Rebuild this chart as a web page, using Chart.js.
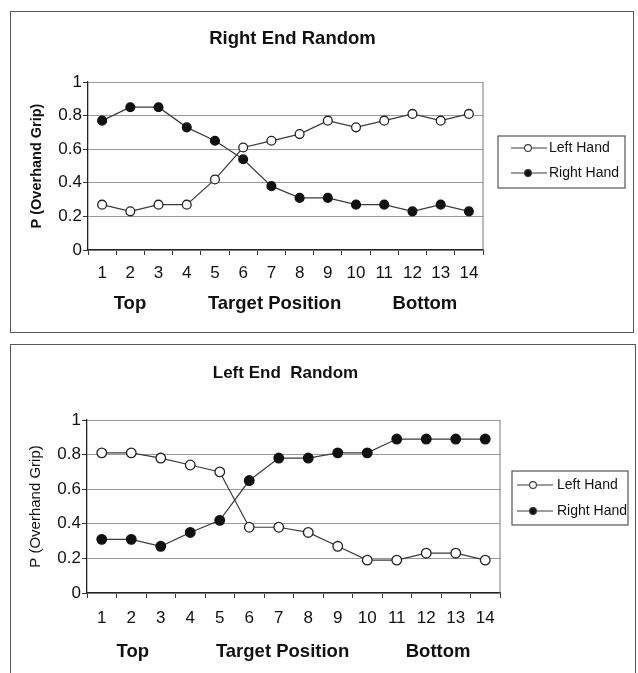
<!DOCTYPE html>
<html>
<head>
<meta charset="utf-8">
<script src="https://cdn.jsdelivr.net/npm/chart.js@4.4.1/dist/chart.umd.min.js"></script>
<style>
  html, body { margin: 0; padding: 0; background: #fff; width: 638px; height: 673px; overflow: hidden; }
  .frame { position: absolute; box-sizing: border-box; border: 1.5px solid #555; }
  canvas { position: absolute; }
</style>
</head>
<body>
<div class="frame" style="left:10px;top:11px;width:624px;height:322px"></div>
<div class="frame" style="left:10px;top:344px;width:626px;height:340px"></div>
<canvas id="c1" width="621" height="319" style="left:11px;top:12px"></canvas>
<canvas id="c2" width="624" height="328" style="left:11px;top:345px"></canvas>
<script>
// ---- data ----
const positions = ['1','2','3','4','5','6','7','8','9','10','11','12','13','14'];
const yTickLabels = ['0','0.2','0.4','0.6','0.8','1'];
const seriesNames = ['Left Hand', 'Right Hand'];
const chartTitles = ['Right End Random', 'Left End  Random'];
const yAxisTitle = 'P (Overhand Grip)';
const xAxisParts = ['Top', 'Target Position', 'Bottom'];

const rightEndLeftHand  = [0.27, 0.23, 0.27, 0.27, 0.42, 0.61, 0.65, 0.69, 0.77, 0.73, 0.77, 0.81, 0.77, 0.81];
const rightEndRightHand = [0.77, 0.85, 0.85, 0.73, 0.65, 0.54, 0.38, 0.31, 0.31, 0.27, 0.27, 0.23, 0.27, 0.23];
const leftEndLeftHand   = [0.81, 0.81, 0.78, 0.74, 0.70, 0.38, 0.38, 0.35, 0.27, 0.19, 0.19, 0.23, 0.23, 0.19];
const leftEndRightHand  = [0.31, 0.31, 0.27, 0.35, 0.42, 0.65, 0.78, 0.78, 0.81, 0.81, 0.89, 0.89, 0.89, 0.89];

// ---- plugins ----
const FONT = '"Liberation Sans", Arial, Helvetica, sans-serif';

const titleShift = {
  id: 'titleShift',
  afterLayout(chart, args, o) {
    const t = chart.titleBlock;
    if (t) { t.left += o.shift; t.right += o.shift; }
  }
};

const plotFrame = {
  id: 'plotFrame',
  beforeDatasetsDraw(chart, args, o) {
    const { ctx, chartArea: a } = chart;
    ctx.save();
    ctx.strokeStyle = o.color;
    ctx.lineWidth = 1;
    ctx.beginPath();
    ctx.moveTo(a.right, a.top);
    ctx.lineTo(a.right, a.bottom);
    ctx.stroke();
    ctx.restore();
  }
};

const boxLegend = {
  id: 'boxLegend',
  afterDraw(chart, args, o) {
    const { ctx, chartArea: a } = chart;
    const x = a.right + o.dx;
    const y = (a.top + a.bottom) / 2 + o.dy - o.h / 2;
    ctx.save();
    ctx.strokeStyle = '#555';
    ctx.lineWidth = 1.2;
    ctx.strokeRect(x, y, o.w, o.h);
    ctx.font = o.fontSize + 'px ' + FONT;
    ctx.textBaseline = 'middle';
    ctx.textAlign = 'left';
    chart.data.datasets.forEach((ds, i) => {
      const ry = y + o.rows[i];
      ctx.strokeStyle = ds.borderColor;
      ctx.lineWidth = 1.1;
      ctx.beginPath();
      ctx.moveTo(x + o.line[0], ry);
      ctx.lineTo(x + o.line[1], ry);
      ctx.stroke();
      ctx.beginPath();
      ctx.arc(x + o.mark, ry, o.r, 0, Math.PI * 2);
      ctx.fillStyle = ds.pointBackgroundColor;
      ctx.fill();
      ctx.stroke();
      ctx.fillStyle = '#111';
      ctx.fillText(ds.label, x + o.text, ry);
    });
    ctx.restore();
  }
};

function makeDatasets(leftVals, rightVals, radius) {
  return [
    {
      label: seriesNames[0], data: leftVals,
      borderColor: '#3a3a3a', borderWidth: 1.2, tension: 0,
      pointRadius: radius, pointBackgroundColor: '#ffffff',
      pointBorderColor: '#222', pointBorderWidth: 1.3
    },
    {
      label: seriesNames[1], data: rightVals,
      borderColor: '#3a3a3a', borderWidth: 1.2, tension: 0,
      pointRadius: radius, pointBackgroundColor: '#111111',
      pointBorderColor: '#111', pointBorderWidth: 1.3
    }
  ];
}

function makeChart(id, cfg) {
  const xTitle = xAxisParts[0] + ' '.repeat(cfg.gap1) + xAxisParts[1] + ' '.repeat(cfg.gap2) + xAxisParts[2];
  return new Chart(document.getElementById(id), {
    type: 'line',
    data: { labels: positions, datasets: makeDatasets(cfg.left, cfg.right, cfg.radius) },
    plugins: [titleShift, plotFrame, boxLegend],
    options: {
      responsive: false,
      animation: false,
      events: [],
      layout: { padding: cfg.padding },
      plugins: {
        legend: { display: false },
        tooltip: { enabled: false },
        title: {
          display: true, text: cfg.title, fullSize: false, color: '#111',
          font: { family: FONT, size: cfg.titleSize, weight: 'bold', lineHeight: 1.2 },
          padding: cfg.titlePad
        },
        titleShift: { shift: cfg.titleShift },
        plotFrame: { color: '#777' },
        boxLegend: cfg.legend
      },
      scales: {
        x: {
          type: 'category', offset: true,
          afterFit: s => { s.height = cfg.xHeight; },
          grid: { offset: true, drawOnChartArea: false, tickLength: 5, color: '#333', lineWidth: 1 },
          border: { color: '#222', width: 1.3 },
          ticks: { autoSkip: false, maxRotation: 0, padding: cfg.xTickPad, color: '#111',
                   font: { family: FONT, size: 17, lineHeight: 1.2 } },
          title: { display: true, text: xTitle, color: '#111',
                   font: { family: FONT, size: 18.5, weight: 'bold', lineHeight: 1.2 },
                   padding: { top: 0, bottom: cfg.xTitlePad } }
        },
        y: {
          min: 0, max: 1,
          afterFit: s => { s.width = cfg.yWidth; },
          afterBuildTicks: s => { s.ticks = yTickLabels.map(t => ({ value: parseFloat(t) })); },
          grid: { color: '#999', lineWidth: 1, tickLength: 5, tickColor: '#333' },
          border: { color: '#222', width: 1.3 },
          ticks: { padding: 1, color: '#111',
                   callback: (v, i) => yTickLabels[i],
                   font: { family: FONT, size: 17, lineHeight: 1.2 } },
          title: { display: true, text: yAxisTitle, color: '#111',
                   font: { family: FONT, size: cfg.yTitleSize, weight: cfg.yTitleWeight, lineHeight: 1.2 },
                   padding: { top: cfg.yTitlePad, bottom: 0 } }
        }
      }
    }
  });
}

makeChart('c1', {
  left: rightEndLeftHand, right: rightEndRightHand, radius: 4.4,
  title: chartTitles[0], titleSize: 18.5, titlePad: { top: 16, bottom: 31.8 }, titleShift: 7,
  padding: { top: 0, left: 10, right: 149, bottom: 10 },
  xHeight: 71, xTickPad: 8, xTitlePad: 6, gap1: 12, gap2: 10,
  yWidth: 67, yTitleSize: 14.5, yTitleWeight: 'bold', yTitlePad: 7,
  legend: { dx: 15, dy: -4, w: 127, h: 52, rows: [12, 37], line: [13, 49], mark: 30, text: 51, r: 3.4, fontSize: 14 }
});

makeChart('c2', {
  left: leftEndLeftHand, right: leftEndRightHand, radius: 4.8,
  title: chartTitles[1], titleSize: 17, titlePad: { top: 18, bottom: 36.6 }, titleShift: -8,
  padding: { top: 0, left: 10, right: 135, bottom: 5 },
  xHeight: 75, xTickPad: 10, xTitlePad: 4.5, gap1: 13, gap2: 11,
  yWidth: 66, yTitleSize: 15, yTitleWeight: 'normal', yTitlePad: 6,
  legend: { dx: 12, dy: -8.5, w: 116, h: 54, rows: [14, 40], line: [5, 41], mark: 21, text: 45, r: 3.4, fontSize: 14 }
});
</script>
</body>
</html>
